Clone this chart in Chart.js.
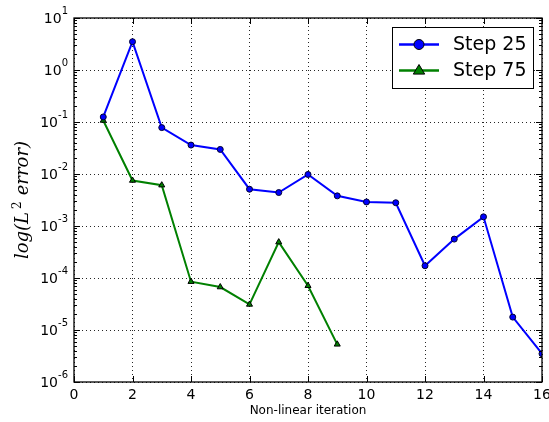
<!DOCTYPE html>
<html>
<head>
<meta charset="utf-8">
<script src="https://cdn.jsdelivr.net/npm/chart.js@4/dist/chart.umd.min.js"></script>
<style>
	html, body { margin: 0; padding: 0; background: #fff; }
	canvas { display: block; }
</style>
</head>
<body>
<canvas id="errors" width="549" height="422"></canvas>
<script>
// iteration numbers and L2 error per iteration
const itersA = [1, 2, 3, 4, 5, 6, 7, 8, 9, 10, 11, 12, 13, 14, 15, 16]
const errorsA = [0.125, 3.5, 0.078, 0.036, 0.0297, 0.0051, 0.0044, 0.0098, 0.0038, 0.0029, 0.0028, 1.72e-4, 5.6e-4, 1.5e-3, 1.77e-5, 3.5e-6]
const itersB = [1, 2, 3, 4, 5, 6, 7, 8, 9]
const errorsB = [0.107, 0.0075, 0.0061, 8.5e-5, 6.7e-5, 3.1e-5, 4.9e-4, 7.1e-5, 5.3e-6]
const seriesNames = ['Step 25', 'Step 75']
const decades = [1e-6, 1e-5, 1e-4, 1e-3, 1e-2, 1e-1, 1, 10]
const xTicks = [0, 2, 4, 6, 8, 10, 12, 14, 16]

const toPoints = (xs, ys) => xs.map((x, i) => ({ x: x, y: ys[i] }))

//draw one marker, used by the legend
const marker = (ctx, style, x, y, r, fill) => {
	ctx.save()
	ctx.fillStyle = fill
	ctx.strokeStyle = '#000'
	ctx.lineWidth = 1
	ctx.beginPath()
	if (style === 'triangle') {
		ctx.moveTo(x, y - r)
		ctx.lineTo(x + r * 0.95, y + r * 0.6)
		ctx.lineTo(x - r * 0.95, y + r * 0.6)
		ctx.closePath()
	} else {
		ctx.arc(x, y, r, 0, Math.PI * 2)
	}
	ctx.fill()
	ctx.stroke()
	ctx.restore()
}

//y title set like math text: italic letters, upright raised 2
const yTitle = (ctx, cx, cy) => {
	const parts = [
		{ t: 'log(L', f: 'italic 18px "DejaVu Serif"', dy: 0, gap: 3 },
		{ t: '2', f: '12px "DejaVu Serif"', dy: -7, gap: 6 },
		{ t: 'error)', f: 'italic 18px "DejaVu Serif"', dy: 0, gap: 0 },
	]
	let total = 0
	for (const p of parts) {
		ctx.font = p.f
		p.w = ctx.measureText(p.t).width
		total += p.w + p.gap
	}
	ctx.save()
	ctx.translate(cx, cy + total / 2)
	ctx.rotate(-Math.PI / 2)
	ctx.fillStyle = '#000'
	ctx.textAlign = 'left'
	ctx.textBaseline = 'alphabetic'
	let x = 0
	for (const p of parts) {
		ctx.font = p.f
		ctx.fillText(p.t, x, p.dy)
		x += p.w + p.gap
	}
	ctx.restore()
}

//frame, inward ticks, y labels with exponents and the legend box
const decorations = {
	id: 'decorations',
	afterDraw: chart => {
		const ctx = chart.ctx
		const a = chart.chartArea
		const xs = chart.scales.x
		const ys = chart.scales.y

		ctx.save()
		ctx.strokeStyle = '#000'
		ctx.lineWidth = 1

		//major ticks
		ctx.beginPath()
		for (const v of xTicks) {
			const px = Math.round(xs.getPixelForValue(v)) + 0.5
			ctx.moveTo(px, a.bottom)
			ctx.lineTo(px, a.bottom - 6)
			ctx.moveTo(px, a.top)
			ctx.lineTo(px, a.top + 6)
		}
		for (const v of decades) {
			const py = Math.round(ys.getPixelForValue(v)) + 0.5
			ctx.moveTo(a.left, py)
			ctx.lineTo(a.left + 6, py)
			ctx.moveTo(a.right, py)
			ctx.lineTo(a.right - 6, py)
		}
		//minor ticks on the log axis
		for (const d of decades.slice(0, -1)) {
			for (let k = 2; k < 10; k++) {
				const py = Math.round(ys.getPixelForValue(k * d)) + 0.5
				ctx.moveTo(a.left, py)
				ctx.lineTo(a.left + 3, py)
				ctx.moveTo(a.right, py)
				ctx.lineTo(a.right - 3, py)
			}
		}
		ctx.stroke()

		ctx.lineWidth = 1.3
		ctx.strokeRect(a.left, a.top, a.right - a.left, a.bottom - a.top)

		//y labels as 10 with a raised exponent
		ctx.fillStyle = '#000'
		ctx.textBaseline = 'middle'
		for (const v of decades) {
			const py = ys.getPixelForValue(v)
			const exp = String(Math.round(Math.log10(v)))
			ctx.font = '10px "DejaVu Sans"'
			const ew = ctx.measureText(exp).width
			const right = a.left - 6
			ctx.textAlign = 'left'
			ctx.fillText(exp, right - ew, py - 7)
			ctx.font = '14px "DejaVu Sans"'
			ctx.textAlign = 'right'
			ctx.fillText('10', right - ew, py + 1)
		}

		yTitle(ctx, 28, (a.top + a.bottom) / 2)

		//legend
		const box = { x: 392.5, y: 27.5, w: 141, h: 61 }
		ctx.fillStyle = '#fff'
		ctx.fillRect(box.x, box.y, box.w, box.h)
		ctx.lineWidth = 1
		ctx.strokeStyle = '#000'
		ctx.strokeRect(box.x, box.y, box.w, box.h)

		chart.data.datasets.forEach((ds, i) => {
			const y = 44.5 + i * 26
			ctx.strokeStyle = ds.borderColor
			ctx.lineWidth = 2.5
			ctx.beginPath()
			ctx.moveTo(399, y)
			ctx.lineTo(439, y)
			ctx.stroke()
			marker(ctx, ds.pointStyle, 419, y, ds.pointStyle === 'triangle' ? 6 : 5, ds.borderColor)

			ctx.fillStyle = '#000'
			ctx.font = '19px "DejaVu Sans"'
			ctx.textAlign = 'left'
			ctx.textBaseline = 'middle'
			ctx.fillText(ds.label, 453, y + 1)
		})
		ctx.restore()
	},
}

const ctx = document.querySelector('#errors').getContext('2d')

new Chart(ctx, {
	type: 'line',
	data: {
		datasets: [
			{
				label: seriesNames[0],
				data: toPoints(itersA, errorsA),
				borderColor: '#0000ff',
				backgroundColor: '#0000ff',
				borderWidth: 2,
				pointStyle: 'circle',
				pointRadius: 3,
				pointBorderColor: '#000033',
				pointBorderWidth: 1,
				tension: 0,
			},
			{
				label: seriesNames[1],
				data: toPoints(itersB, errorsB),
				borderColor: '#008000',
				backgroundColor: '#008000',
				borderWidth: 2,
				pointStyle: 'triangle',
				pointRadius: 3.5,
				pointBorderColor: '#000',
				pointBorderWidth: 1,
				tension: 0,
			},
		],
	},
	options: {
		responsive: false,
		animation: false,
		devicePixelRatio: 1,
		layout: { padding: { top: 18, right: 7, left: 0, bottom: 0 } },
		plugins: {
			legend: { display: false },
			tooltip: { enabled: false },
		},
		scales: {
			x: {
				type: 'linear',
				min: 0,
				max: 16,
				ticks: {
					stepSize: 2,
					color: '#000',
					padding: 5,
					font: { family: 'DejaVu Sans', size: 14 },
				},
				grid: { color: 'rgba(0,0,0,0.85)', lineWidth: 1, drawTicks: false },
				border: { display: false, dash: [1, 3] },
				title: {
					display: true,
					text: 'Non-linear iteration',
					color: '#000',
					font: { family: 'DejaVu Sans', size: 12 },
					padding: { top: 0, bottom: 4 },
				},
				afterFit: s => {
					s.height = 40
					s.paddingLeft = 0
					s.paddingRight = 0
				},
			},
			y: {
				type: 'logarithmic',
				min: 1e-6,
				max: 10,
				ticks: { display: false },
				afterBuildTicks: s => {
					s.ticks = decades.map(v => ({ value: v }))
				},
				grid: { color: 'rgba(0,0,0,0.85)', lineWidth: 1, drawTicks: false },
				border: { display: false, dash: [1, 3] },
				afterFit: s => {
					s.width = 74
					s.paddingTop = 0
					s.paddingBottom = 0
				},
			},
		},
	},
	plugins: [decorations],
})
</script>
</body>
</html>
